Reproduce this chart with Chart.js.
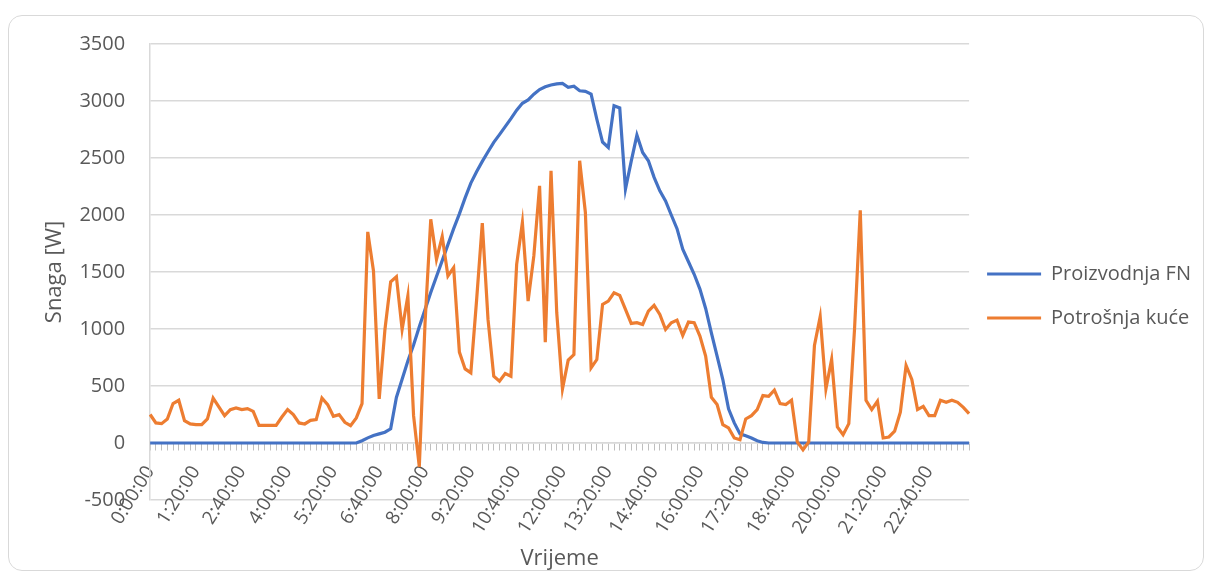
<!DOCTYPE html>
<html>
<head>
<meta charset="utf-8">
<script src="https://cdn.jsdelivr.net/npm/chart.js@4.4.1/dist/chart.umd.min.js"></script>
<style>
  html, body { margin: 0; padding: 0; background: #fff; }
  #wrap { position: absolute; left: 0; top: 0; width: 1205px; height: 572px; }
  #frame { position: absolute; left: 8px; top: 15px; width: 1194px; height: 554px;
           border: 1.5px solid #d9d9d9; border-radius: 14px; pointer-events: none; }
</style>
</head>
<body>
<div id="wrap"><canvas id="myLineChart"></canvas></div>
<div id="frame"></div>
<script>
// vremena u koracima od 10 minuta (0:00:00 ... 23:50:00)
var times = [];
for (var m = 0; m < 1440; m += 10) {
    times.push(Math.floor(m / 60) + ':' + String(m % 60).padStart(2, '0') + ':00');
}

var yTicks = [-500, 0, 500, 1000, 1500, 2000, 2500, 3000, 3500];

// Proizvodnja FN [W]
var proizvodnja = [
    0, 0, 0, 0, 0, 0, 0, 0, 0, 0, 0, 0, 0, 0, 0, 0,
    0, 0, 0, 0, 0, 0, 0, 0, 0, 0, 0, 0, 0, 0, 0, 0,
    0, 0, 0, 0, 0, 20, 45, 65, 80, 95, 125, 400, 560, 720, 860, 1020,
    1170, 1320, 1460, 1600, 1740, 1880, 2010, 2150, 2280, 2380, 2470, 2555, 2637, 2705, 2775, 2845,
    2920, 2980, 3010, 3060, 3100, 3125, 3140, 3150, 3155, 3120, 3130, 3090, 3085, 3060, 2840, 2640,
    2593, 2959, 2939, 2227, 2470, 2701, 2549, 2476, 2330, 2212, 2124, 2000, 1880, 1700, 1590, 1480,
    1350, 1180, 967, 762, 557, 300, 176, 80, 64, 44, 20, 5, 0, 0, 0, 0,
    0, 0, 0, 0, 0, 0, 0, 0, 0, 0, 0, 0, 0, 0, 0, 0,
    0, 0, 0, 0, 0, 0, 0, 0, 0, 0, 0, 0, 0, 0, 0, 0
];

// Potrošnja kuće [W]
var potrosnja = [
    250, 176, 170, 211, 346, 375, 196, 167, 161, 161, 211, 393, 316, 240, 293, 308,
    293, 302, 278, 155, 155, 155, 155, 228, 293, 249, 176, 167, 199, 205, 395, 337,
    234, 249, 182, 152, 220, 346, 1852, 1509, 387, 996, 1415, 1459, 996, 1289, 240, -210,
    1050, 1963, 1611, 1811, 1465, 1538, 797, 650, 615, 1250, 1928, 1084, 586, 542, 609, 586,
    1567, 1934, 1245, 1641, 2256, 885, 2388, 1143, 475, 727, 776, 2476, 2022, 659, 732, 1216,
    1245, 1318, 1295, 1172, 1049, 1055, 1040, 1157, 1207, 1128, 996, 1055, 1078, 943, 1061, 1055,
    938, 762, 401, 337, 161, 132, 44, 29, 211, 240, 293, 416, 410, 463, 346, 337,
    375, 10, -60, 10, 856, 1108, 475, 733, 141, 73, 170, 1000, 2042, 375, 293, 366,
    44, 53, 103, 270, 680, 557, 293, 322, 240, 240, 375, 357, 375, 357, 313, 258
];

var txtColor = '#595959';
var gridColor = '#d9d9d9';

Chart.defaults.font.family = "'Open Sans', sans-serif";
Chart.defaults.color = txtColor;

var ctx = document.getElementById('myLineChart').getContext('2d');
var myLineChart = new Chart(ctx, {
    type: 'line',
    data: {
        labels: times,
        datasets: [{
            label: 'Proizvodnja FN',
            data: proizvodnja,
            borderColor: '#4472c4',
            backgroundColor: '#4472c4',
            borderWidth: 3.2,
            pointRadius: 0,
            tension: 0,
            order: 1
        }, {
            label: 'Potrošnja kuće',
            data: potrosnja,
            borderColor: '#ed7d31',
            backgroundColor: '#ed7d31',
            borderWidth: 3.2,
            pointRadius: 0,
            tension: 0,
            order: 0 // narančasta iznad plave
        }]
    },
    options: {
        responsive: true,
        maintainAspectRatio: false,
        animation: false,
        layout: {
            padding: { left: 42, top: 44, right: 4, bottom: 72 }
        },
        plugins: {
            tooltip: { enabled: false },
            legend: {
                position: 'right',
                title: { display: true, text: '', padding: 0, font: { size: 1, lineHeight: '54px' } },
                labels: {
                    boxWidth: 54,
                    boxHeight: 3,
                    padding: 18,
                    color: txtColor,
                    font: { size: 20, lineHeight: '26px' },
                    sort: function(a, b) { return a.datasetIndex - b.datasetIndex; },
                    generateLabels: function(chart) {
                        var items = Chart.defaults.plugins.legend.labels.generateLabels(chart);
                        items.forEach(function(it) {
                            it.lineWidth = 0;
                            it.text = [it.text];
                        });
                        return items;
                    }
                }
            }
        },
        scales: {
            x: {
                position: { y: 0 },
                grid: { drawOnChartArea: false, drawTicks: true, tickLength: 7, color: '#bfbfbf', lineWidth: 1 },
                border: { display: true, color: gridColor, width: 1.5 },
                ticks: {
                    autoSkip: false,
                    minRotation: 58,
                    maxRotation: 58,
                    padding: 12,
                    color: txtColor,
                    font: { size: 19 },
                    callback: function(value, index) {
                        return index % 8 === 0 ? times[index] : '';
                    }
                },
                title: { display: true, text: 'Vrijeme', color: txtColor, font: { size: 22 }, padding: { top: -4, bottom: 0 } }
            },
            y: {
                min: yTicks[0],
                max: yTicks[yTicks.length - 1],
                afterBuildTicks: function(scale) {
                    scale.ticks = yTicks.map(function(v) { return { value: v }; });
                },
                grid: { color: gridColor, lineWidth: 1.5, drawTicks: false },
                border: { display: true, color: gridColor, width: 1.5 },
                ticks: {
                    padding: 25,
                    color: txtColor,
                    font: { size: 20 },
                    callback: function(value) { return String(value); }
                },
                title: { display: true, text: 'Snaga [W]', color: txtColor, font: { size: 22 }, padding: { top: 0, bottom: -14 } }
            }
        }
    }
});
</script>
</body>
</html>
